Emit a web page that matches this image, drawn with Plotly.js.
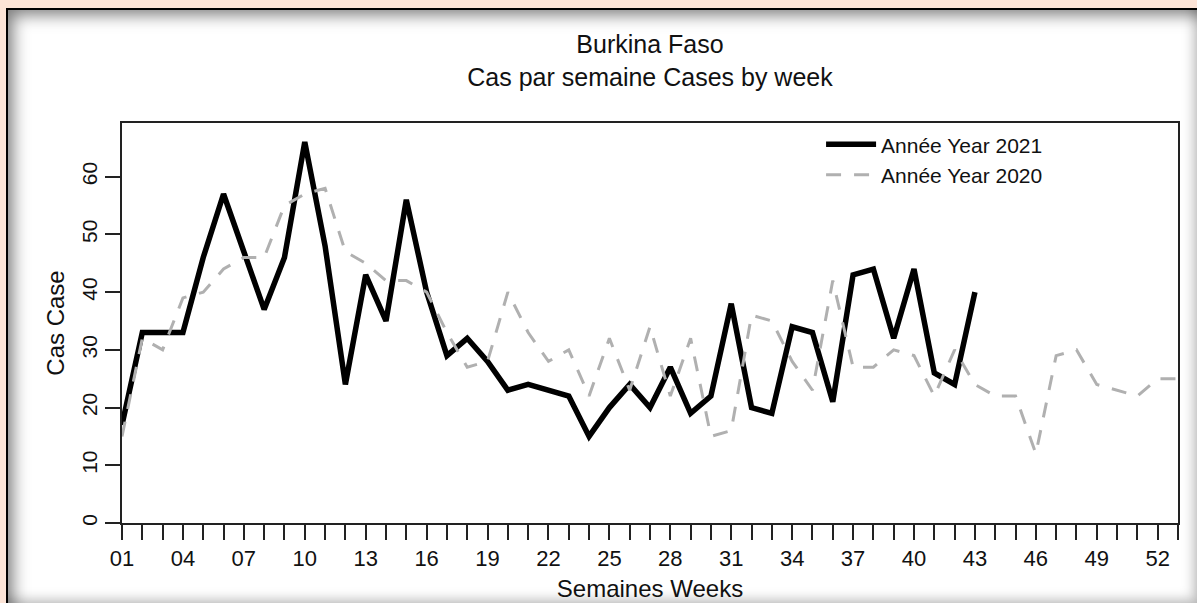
<!DOCTYPE html>
<html>
<head>
<meta charset="utf-8">
<script src="https://cdn.plot.ly/plotly-3.0.1.min.js"></script>
<style>
  html, body { margin: 0; padding: 0; width: 1197px; height: 603px; overflow: hidden; background: #fce4d7; }
  #panel { position: absolute; left: 6px; top: 8px; width: 1191px; height: 595px; background: #ffffff;
           border-left: 2px solid #000; border-top: 2px solid #000; box-sizing: border-box;
           box-shadow: inset 8px 8px 16px -3px rgba(0,0,0,0.5), inset -10px -10px 12px -6px rgba(0,0,0,0.22); }
  #chart { position: absolute; left: 0; top: 0; width: 1197px; height: 603px; }
</style>
</head>
<body>
<div id="panel"></div>
<div id="chart"></div>
<script>
// Weeks of the year (x categories)
const weeks = [1,2,3,4,5,6,7,8,9,10,11,12,13,14,15,16,17,18,19,20,21,22,23,24,25,26,27,
               28,29,30,31,32,33,34,35,36,37,38,39,40,41,42,43,44,45,46,47,48,49,50,51,52,53];
const weeks2021 = weeks.slice(0, 43);

// Cases per week, 2021 (weeks 01-43)
const cases2021 = [17,33,33,33,46,57,47,37,46,66,48,24,43,35,56,40,29,32,28,23,24,23,22,15,20,24,
                   20,27,19,22,38,20,19,34,33,21,43,44,32,44,26,24,40];

// Cases per week, 2020 (weeks 01-53)
const cases2020 = [15,32,30,39,40,44,46,46,55,57,58,47,45,42,42,40,33,27,28,40,33,28,30,22,32,23,
                   34,22,32,15,16,36,35,28,23,42,27,27,30,29,22,30,24,22,22,12,29,30,24,23,22,25,25];

// Axis ticks
const xTickVals = weeks;
const xTickText = ["01","","","04","","","07","","","10","","","13","","","16","","","19","","","22","","",
                   "25","","","28","","","31","","","34","","","37","","","40","","","43","","","46","","",
                   "49","","","52",""];
const yTickVals = [0,10,20,30,40,50,60];

const FONT = "Liberation Sans, Arial, Helvetica, sans-serif";

const traces = [
  {
    x: weeks2021, y: cases2021, type: "scatter", mode: "lines",
    name: "Année Year 2021",
    line: { color: "#000000", width: 5.5, shape: "linear" }
  },
  {
    x: weeks, y: cases2020, type: "scatter", mode: "lines",
    name: "Année Year 2020",
    line: { color: "#b0b0b0", width: 3, dash: "15px,13px" }
  }
];

const layout = {
  width: 1197, height: 603,
  paper_bgcolor: "rgba(0,0,0,0)",
  plot_bgcolor: "#ffffff",
  margin: { l: 122, r: 19, t: 123, b: 80, pad: 0 },
  font: { family: FONT, color: "#000000" },
  title: {
    text: "Burkina Faso<br>Cas par semaine Cases by week",
    x: 0.5, xref: "paper", xanchor: "center",
    y: 0.912, yref: "container", yanchor: "top",
    font: { size: 25, family: FONT, color: "#111111" }
  },
  xaxis: {
    range: [1, 53], showgrid: false, zeroline: false,
    showline: true, linecolor: "#222222", linewidth: 2, mirror: true,
    ticks: "outside", ticklen: 15, tickwidth: 2, tickcolor: "#222222",
    tickmode: "array", tickvals: xTickVals, ticktext: xTickText,
    tickfont: { size: 22, family: FONT, color: "#111111" },
    title: { text: "Semaines Weeks", font: { size: 24, family: FONT, color: "#111111" }, standoff: 10 },
    fixedrange: true
  },
  yaxis: {
    range: [0, 69.3], showgrid: false, zeroline: false,
    showline: true, linecolor: "#222222", linewidth: 2, mirror: true,
    ticks: "outside", ticklen: 15, tickwidth: 2, tickcolor: "#222222",
    tickmode: "array", tickvals: yTickVals, ticktext: yTickVals.map(String),
    tickangle: -90,
    tickfont: { size: 21, family: FONT, color: "#111111" },
    title: { text: "Cas Case", font: { size: 24, family: FONT, color: "#111111" }, standoff: 6 },
    fixedrange: true
  },
  showlegend: true,
  legend: {
    x: 0.662, xanchor: "left", y: 0.997, yanchor: "top",
    bgcolor: "rgba(0,0,0,0)", borderwidth: 0,
    font: { size: 21, family: FONT, color: "#111111" },
    itemwidth: 50, tracegroupgap: 0
  }
};

Plotly.newPlot("chart", traces, layout, { staticPlot: true, displayModeBar: false });
</script>
</body>
</html>
